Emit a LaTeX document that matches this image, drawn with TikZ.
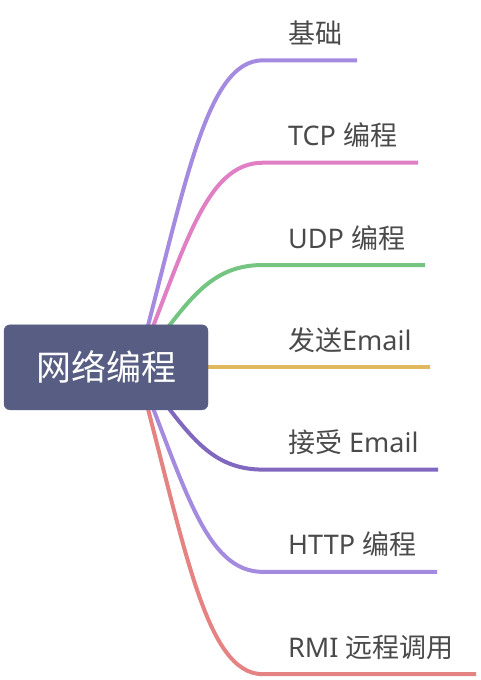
\documentclass[tikz,border=0pt]{standalone}
\usepackage{fontspec}
\setmainfont{Noto Sans}
\newfontfamily\cjk{Noto Sans CJK SC}
\definecolor{rootfill}{HTML}{585E83}
\definecolor{txtgray}{HTML}{4A4A4A}
\definecolor{cA}{HTML}{A58BE0}
\definecolor{cB}{HTML}{E07FC4}
\definecolor{cC}{HTML}{74C482}
\definecolor{cD}{HTML}{E0B95C}
\definecolor{cE}{HTML}{8168BF}
\definecolor{cF}{HTML}{A58BE0}
\definecolor{cG}{HTML}{E58383}
\begin{document}
\begin{tikzpicture}[x=1pt,y=-1pt,
  branch/.style={line width=4pt},
  lbl/.style={anchor=base west, inner sep=0pt, text=txtgray, font=\fontsize{27}{32}\selectfont},
  rootbox/.style={fill=rootfill, draw=rootfill, rounded corners=6pt, minimum width=204pt, minimum height=85pt, inner sep=0pt, text=white, font=\cjk\fontsize{35}{40}\selectfont}]
\useasboundingbox (0,0) rectangle (480,680);
\coordinate (o) at (137,367.3);
% branch start (horizontal) and end coordinates
\coordinate (a1) at (263,60.3);  \coordinate (b1) at (357,60.3);
\coordinate (a2) at (263,162.7); \coordinate (b2) at (418,162.7);
\coordinate (a3) at (263,265.0); \coordinate (b3) at (425,265.0);
\coordinate (b4) at (430,367.3);
\coordinate (a5) at (263,469.6); \coordinate (b5) at (438,469.6);
\coordinate (a6) at (263,571.9); \coordinate (b6) at (437,571.9);
\coordinate (a7) at (263,674.2); \coordinate (b7) at (476,674.2);
% connectors
\draw[branch, draw=cA] (o) .. controls (185,189.3) and (205,60.3) .. (a1) -- (b1);
\draw[branch, draw=cB] (o) .. controls (185,248.6) and (205,162.7) .. (a2) -- (b2);
\draw[branch, draw=cC] (o) .. controls (185,308.0) and (205,265.0) .. (a3) -- (b3);
\draw[branch, draw=cD] (o) -- (b4);
\draw[branch, draw=cE] (o) .. controls (185,426.6) and (205,469.6) .. (a5) -- (b5);
\draw[branch, draw=cF] (o) .. controls (185,486.0) and (205,571.9) .. (a6) -- (b6);
\draw[branch, draw=cG] (o) .. controls (185,545.3) and (205,674.2) .. (a7) -- (b7);
% root
\node[rootbox] (root) at (106,367.3) {网络编程};
% labels
\node[lbl] (l1) at (288,43.3) {\cjk 基础};
\node[lbl] (l2) at (288,145.7) {TCP {\cjk 编程}};
\node[lbl] (l3) at (288,248.0) {UDP {\cjk 编程}};
\node[lbl] (l4) at (288,350.3) {{\cjk 发送}Email};
\node[lbl] (l5) at (288,452.6) {{\cjk 接受} Email};
\node[lbl] (l6) at (288,554.9) {HTTP {\cjk 编程}};
\node[lbl] (l7) at (288,657.2) {RMI {\cjk 远程调用}};
\end{tikzpicture}
\end{document}
